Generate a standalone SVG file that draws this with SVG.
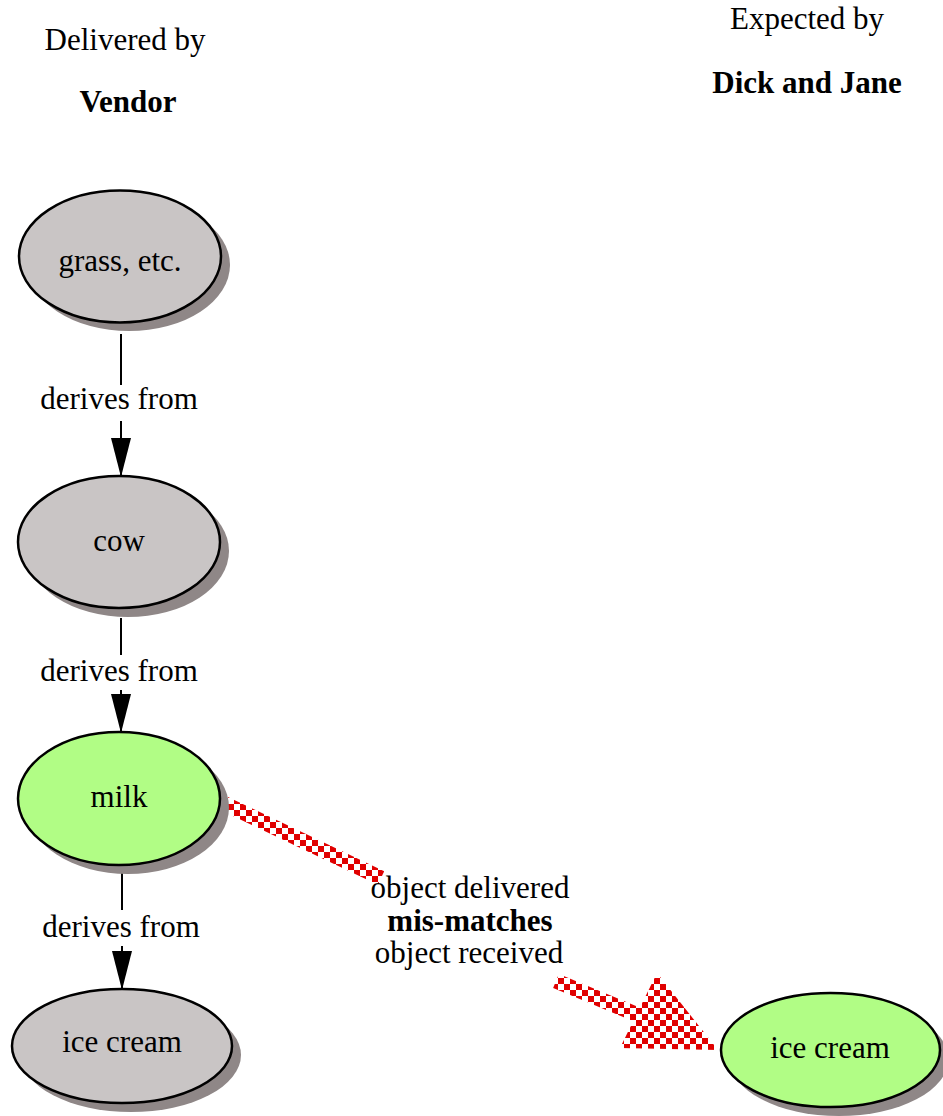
<svg xmlns="http://www.w3.org/2000/svg" width="943" height="1116" viewBox="0 0 943 1116">
<style>
text{font-family:"Liberation Serif","Times New Roman",serif;font-size:31px;fill:#000;text-anchor:middle}
.b{font-weight:bold}
.sh{fill:#8f8787;stroke:none}
.gray{fill:#c9c5c5;stroke:#000;stroke-width:2.5}
.green{fill:#b1fd85;stroke:#000;stroke-width:2.5}
.edge{stroke:#000;stroke-width:2;fill:none}
.mis{stroke:url(#chk);stroke-width:15;fill:none}
</style>
<defs>
<pattern id="chk" patternUnits="userSpaceOnUse" width="12" height="12">
<rect x="0" y="0" width="6" height="6" fill="#e00000"/>
<rect x="6" y="6" width="6" height="6" fill="#e00000"/>
</pattern>
<marker id="arr" viewBox="0 0 39 20" refX="39" refY="10" markerWidth="39" markerHeight="20" markerUnits="userSpaceOnUse" orient="auto">
<path d="M0,0 L39,10 L0,20 z" fill="#000"/>
</marker>
</defs>
<g id="title-vendor">
<text x="125" y="50">Delivered by</text>
<text class="b" x="128" y="112">Vendor</text>
</g>
<g id="title-dj">
<text x="807" y="29">Expected by</text>
<text class="b" x="807" y="93">Dick and Jane</text>
</g>
<g id="connectors">
<line class="edge" x1="121" y1="334" x2="121" y2="385"/>
<line class="edge" x1="121" y1="421" x2="121" y2="477" marker-end="url(#arr)"/>
<text x="119" y="409">derives from</text>
<line class="edge" x1="121" y1="618" x2="121" y2="655"/>
<line class="edge" x1="121" y1="690" x2="121" y2="733" marker-end="url(#arr)"/>
<text x="119" y="681">derives from</text>
<line class="edge" x1="122" y1="873" x2="122" y2="910"/>
<line class="edge" x1="122" y1="946" x2="122" y2="990" marker-end="url(#arr)"/>
<text x="121" y="937">derives from</text>
<line class="mis" x1="221" y1="802" x2="381" y2="878"/>
<line class="mis" x1="556" y1="981" x2="650" y2="1020"/>
<polygon points="718,1050 657,973 620,1048" fill="url(#chk)"/>
<text x="470" y="898">object delivered</text>
<text class="b" x="470" y="931">mis-matches</text>
<text x="469" y="963">object received</text>
</g>
<g id="node-grass">
<ellipse class="sh" cx="129" cy="265" rx="101" ry="66"/>
<ellipse class="gray" cx="120" cy="256.5" rx="101" ry="66"/>
<text x="120" y="271">grass, etc.</text>
</g>
<g id="node-cow">
<ellipse class="sh" cx="128" cy="551" rx="101" ry="66"/>
<ellipse class="gray" cx="119" cy="542" rx="101" ry="66"/>
<text x="119" y="551">cow</text>
</g>
<g id="node-milk">
<ellipse class="sh" cx="128" cy="807.5" rx="101" ry="66.5"/>
<ellipse class="green" cx="119" cy="798.5" rx="101" ry="66.5"/>
<text x="119" y="807">milk</text>
</g>
<g id="node-icecream-left">
<ellipse class="sh" cx="131" cy="1055" rx="110" ry="57"/>
<ellipse class="gray" cx="122" cy="1046" rx="110" ry="57"/>
<text x="122" y="1052">ice cream</text>
</g>
<g id="node-icecream-right">
<ellipse class="sh" cx="839" cy="1059" rx="109.5" ry="57"/>
<ellipse class="green" cx="830.5" cy="1050" rx="109.5" ry="57"/>
<text x="830" y="1058">ice cream</text>
</g>
</svg>
